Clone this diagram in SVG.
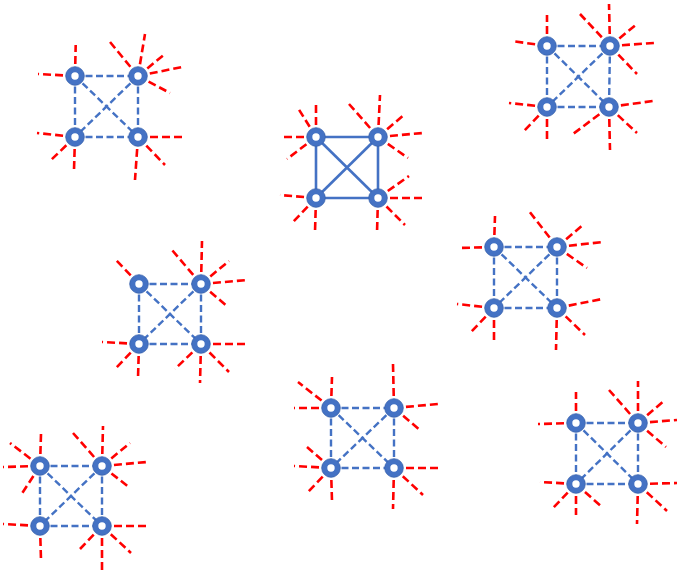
<svg xmlns="http://www.w3.org/2000/svg" width="677" height="573" viewBox="0 0 677 573">
<style>
.e{stroke:#4472C4;stroke-width:2.4;stroke-dasharray:7,3.5;fill:none}
.es{stroke:#4472C4;stroke-width:2.6;fill:none}
.r{stroke:#FF0000;stroke-width:2.6;stroke-dasharray:8,4;fill:none}
.n{fill:#FFFFFF;stroke:#4472C4;stroke-width:5.6}
.o{fill:none;stroke:#3A63AD;stroke-width:0.8}
</style>
<rect width="677" height="573" fill="#FFFFFF"/>
<g id="connectors">
<!-- cluster 1 -->
<g id="c1-edges">
<line class="e" x1="75" y1="76" x2="138" y2="76"/><line class="e" x1="75" y1="137" x2="138" y2="137"/>
<line class="e" x1="75" y1="76" x2="75" y2="137"/><line class="e" x1="138" y1="76" x2="138" y2="137"/>
<line class="e" x1="75" y1="76" x2="138" y2="137"/><line class="e" x1="138" y1="76" x2="75" y2="137"/>
</g>
<g id="c1-rays">
<line class="r" x1="75" y1="76" x2="75.7" y2="45"/><line class="r" x1="75" y1="76" x2="38" y2="74"/>
<line class="r" x1="138" y1="76" x2="110" y2="42"/><line class="r" x1="138" y1="76" x2="145" y2="34"/><line class="r" x1="138" y1="76" x2="165" y2="54"/><line class="r" x1="138" y1="76" x2="182" y2="67"/><line class="r" x1="138" y1="76" x2="170" y2="93"/>
<line class="r" x1="75" y1="137" x2="37" y2="133"/><line class="r" x1="75" y1="137" x2="51" y2="160"/><line class="r" x1="75" y1="137" x2="74" y2="170"/>
<line class="r" x1="138" y1="137" x2="182" y2="137"/><line class="r" x1="138" y1="137" x2="165" y2="165"/><line class="r" x1="138" y1="137" x2="135" y2="180"/>
</g>
<!-- cluster 2 -->
<g id="c2-edges">
<line class="es" x1="316" y1="137" x2="378" y2="137"/><line class="es" x1="316" y1="198" x2="378" y2="198"/>
<line class="es" x1="316" y1="137" x2="316" y2="198"/><line class="es" x1="378" y1="137" x2="378" y2="198"/>
<line class="es" x1="316" y1="137" x2="378" y2="198"/><line class="es" x1="378" y1="137" x2="316" y2="198"/>
</g>
<g id="c2-rays">
<line class="r" x1="316" y1="137" x2="298" y2="108"/><line class="r" x1="316" y1="137" x2="316" y2="105"/><line class="r" x1="316" y1="137" x2="280" y2="137"/><line class="r" x1="316" y1="137" x2="287" y2="159"/>
<line class="r" x1="378" y1="137" x2="349" y2="104"/><line class="r" x1="378" y1="137" x2="380" y2="95"/><line class="r" x1="378" y1="137" x2="405" y2="114"/><line class="r" x1="378" y1="137" x2="423" y2="133"/><line class="r" x1="378" y1="137" x2="408" y2="158"/>
<line class="r" x1="316" y1="198" x2="280" y2="195"/><line class="r" x1="316" y1="198" x2="293" y2="222"/><line class="r" x1="316" y1="198" x2="315" y2="232"/>
<line class="r" x1="378" y1="198" x2="409" y2="176"/><line class="r" x1="378" y1="198" x2="423" y2="198"/><line class="r" x1="378" y1="198" x2="405" y2="225"/><line class="r" x1="378" y1="198" x2="377" y2="233"/>
</g>
<!-- cluster 3 -->
<g id="c3-edges">
<line class="e" x1="547" y1="46" x2="610" y2="46"/><line class="e" x1="547" y1="107" x2="609" y2="107"/>
<line class="e" x1="547" y1="46" x2="547" y2="107"/><line class="e" x1="610" y1="46" x2="609" y2="107"/>
<line class="e" x1="547" y1="46" x2="609" y2="107"/><line class="e" x1="610" y1="46" x2="547" y2="107"/>
</g>
<g id="c3-rays">
<line class="r" x1="547" y1="46" x2="547" y2="15"/><line class="r" x1="547" y1="46" x2="512" y2="41"/>
<line class="r" x1="610" y1="46" x2="580" y2="14"/><line class="r" x1="610" y1="46" x2="609" y2="4"/><line class="r" x1="610" y1="46" x2="637" y2="24"/><line class="r" x1="610" y1="46" x2="654" y2="43"/><line class="r" x1="610" y1="46" x2="637" y2="74"/>
<line class="r" x1="547" y1="107" x2="509" y2="103"/><line class="r" x1="547" y1="107" x2="524" y2="131"/><line class="r" x1="547" y1="107" x2="547" y2="140"/>
<line class="r" x1="609" y1="107" x2="653" y2="101"/><line class="r" x1="609" y1="107" x2="573" y2="134"/><line class="r" x1="609" y1="107" x2="637" y2="133"/><line class="r" x1="609" y1="107" x2="610" y2="150"/>
</g>
<!-- cluster 4 -->
<g id="c4-edges">
<line class="e" x1="139" y1="284" x2="201" y2="284"/><line class="e" x1="139" y1="344" x2="201" y2="344"/>
<line class="e" x1="139" y1="284" x2="139" y2="344"/><line class="e" x1="201" y1="284" x2="201" y2="344"/>
<line class="e" x1="139" y1="284" x2="201" y2="344"/><line class="e" x1="201" y1="284" x2="139" y2="344"/>
</g>
<g id="c4-rays">
<line class="r" x1="139" y1="284" x2="115" y2="259"/>
<line class="r" x1="201" y1="284" x2="172" y2="250"/><line class="r" x1="201" y1="284" x2="202" y2="241"/><line class="r" x1="201" y1="284" x2="229" y2="261"/><line class="r" x1="201" y1="284" x2="247" y2="280"/><line class="r" x1="201" y1="284" x2="228" y2="307"/>
<line class="r" x1="139" y1="344" x2="102" y2="342"/><line class="r" x1="139" y1="344" x2="116" y2="368"/><line class="r" x1="139" y1="344" x2="138" y2="378"/>
<line class="r" x1="201" y1="344" x2="247" y2="344"/><line class="r" x1="201" y1="344" x2="175" y2="369"/><line class="r" x1="201" y1="344" x2="229" y2="372"/><line class="r" x1="201" y1="344" x2="200" y2="383"/>
</g>
<!-- cluster 5 -->
<g id="c5-edges">
<line class="e" x1="494" y1="247" x2="557" y2="247"/><line class="e" x1="494" y1="308" x2="557" y2="308"/>
<line class="e" x1="494" y1="247" x2="494" y2="308"/><line class="e" x1="557" y1="247" x2="557" y2="308"/>
<line class="e" x1="494" y1="247" x2="557" y2="308"/><line class="e" x1="557" y1="247" x2="494" y2="308"/>
</g>
<g id="c5-rays">
<line class="r" x1="494" y1="247" x2="495" y2="216"/><line class="r" x1="494" y1="247" x2="459" y2="248"/>
<line class="r" x1="557" y1="247" x2="529" y2="211"/><line class="r" x1="557" y1="247" x2="584" y2="224"/><line class="r" x1="557" y1="247" x2="603" y2="242"/><line class="r" x1="557" y1="247" x2="587" y2="268"/>
<line class="r" x1="494" y1="308" x2="457" y2="304"/><line class="r" x1="494" y1="308" x2="471" y2="332"/><line class="r" x1="494" y1="308" x2="494" y2="340"/>
<line class="r" x1="557" y1="308" x2="602" y2="299"/><line class="r" x1="557" y1="308" x2="585" y2="335"/><line class="r" x1="557" y1="308" x2="556" y2="350"/>
</g>
<!-- cluster 6 -->
<g id="c6-edges">
<line class="e" x1="40" y1="466" x2="102" y2="466"/><line class="e" x1="40" y1="526" x2="102" y2="526"/>
<line class="e" x1="40" y1="466" x2="40" y2="526"/><line class="e" x1="102" y1="466" x2="102" y2="526"/>
<line class="e" x1="40" y1="466" x2="102" y2="526"/><line class="e" x1="102" y1="466" x2="40" y2="526"/>
</g>
<g id="c6-rays">
<line class="r" x1="40" y1="466" x2="10" y2="443"/><line class="r" x1="40" y1="466" x2="41" y2="434"/><line class="r" x1="40" y1="466" x2="3" y2="467"/><line class="r" x1="40" y1="466" x2="21" y2="495"/>
<line class="r" x1="102" y1="466" x2="73" y2="433"/><line class="r" x1="102" y1="466" x2="103" y2="426"/><line class="r" x1="102" y1="466" x2="130" y2="443"/><line class="r" x1="102" y1="466" x2="147" y2="462"/><line class="r" x1="102" y1="466" x2="130" y2="488"/>
<line class="r" x1="40" y1="526" x2="3" y2="524"/><line class="r" x1="40" y1="526" x2="41" y2="560"/>
<line class="r" x1="102" y1="526" x2="147" y2="526"/><line class="r" x1="102" y1="526" x2="80" y2="549"/><line class="r" x1="102" y1="526" x2="131" y2="553"/><line class="r" x1="102" y1="526" x2="102" y2="570"/>
</g>
<!-- cluster 7 -->
<g id="c7-edges">
<line class="e" x1="331" y1="408" x2="394" y2="408"/><line class="e" x1="331" y1="468" x2="394" y2="468"/>
<line class="e" x1="331" y1="408" x2="331" y2="468"/><line class="e" x1="394" y1="408" x2="394" y2="468"/>
<line class="e" x1="331" y1="408" x2="394" y2="468"/><line class="e" x1="394" y1="408" x2="331" y2="468"/>
</g>
<g id="c7-rays">
<line class="r" x1="331" y1="408" x2="298" y2="382"/><line class="r" x1="331" y1="408" x2="332" y2="377"/><line class="r" x1="331" y1="408" x2="294" y2="408"/>
<line class="r" x1="394" y1="408" x2="393" y2="364"/><line class="r" x1="394" y1="408" x2="438" y2="404"/><line class="r" x1="394" y1="408" x2="421" y2="431"/>
<line class="r" x1="331" y1="468" x2="307" y2="447"/><line class="r" x1="331" y1="468" x2="294" y2="466"/><line class="r" x1="331" y1="468" x2="308" y2="492"/><line class="r" x1="331" y1="468" x2="332" y2="501"/>
<line class="r" x1="394" y1="468" x2="438" y2="468"/><line class="r" x1="394" y1="468" x2="423" y2="495"/><line class="r" x1="394" y1="468" x2="393" y2="509"/>
</g>
<!-- cluster 8 -->
<g id="c8-edges">
<line class="e" x1="576" y1="423" x2="638" y2="423"/><line class="e" x1="576" y1="484" x2="638" y2="484"/>
<line class="e" x1="576" y1="423" x2="576" y2="484"/><line class="e" x1="638" y1="423" x2="638" y2="484"/>
<line class="e" x1="576" y1="423" x2="638" y2="484"/><line class="e" x1="638" y1="423" x2="576" y2="484"/>
</g>
<g id="c8-rays">
<line class="r" x1="576" y1="423" x2="576" y2="392"/><line class="r" x1="576" y1="423" x2="538" y2="424"/>
<line class="r" x1="638" y1="423" x2="609" y2="390"/><line class="r" x1="638" y1="423" x2="638" y2="381"/><line class="r" x1="638" y1="423" x2="665" y2="400"/><line class="r" x1="638" y1="423" x2="677" y2="420"/><line class="r" x1="638" y1="423" x2="666" y2="447"/>
<line class="r" x1="576" y1="484" x2="540" y2="482"/><line class="r" x1="576" y1="484" x2="553" y2="508"/><line class="r" x1="576" y1="484" x2="576" y2="515"/><line class="r" x1="576" y1="484" x2="602" y2="507"/>
<line class="r" x1="638" y1="484" x2="677" y2="483"/><line class="r" x1="638" y1="484" x2="667" y2="511"/><line class="r" x1="638" y1="484" x2="637" y2="524"/>
</g>
</g>
<g id="nodes">
<g id="n1a"><circle class="n" cx="75" cy="76" r="6.5"/><circle class="o" cx="75" cy="76" r="9.3"/></g>
<g id="n1b"><circle class="n" cx="138" cy="76" r="6.5"/><circle class="o" cx="138" cy="76" r="9.3"/></g>
<g id="n1c"><circle class="n" cx="75" cy="137" r="6.5"/><circle class="o" cx="75" cy="137" r="9.3"/></g>
<g id="n1d"><circle class="n" cx="138" cy="137" r="6.5"/><circle class="o" cx="138" cy="137" r="9.3"/></g>
<g id="n2a"><circle class="n" cx="316" cy="137" r="6.5"/><circle class="o" cx="316" cy="137" r="9.3"/></g>
<g id="n2b"><circle class="n" cx="378" cy="137" r="6.5"/><circle class="o" cx="378" cy="137" r="9.3"/></g>
<g id="n2c"><circle class="n" cx="316" cy="198" r="6.5"/><circle class="o" cx="316" cy="198" r="9.3"/></g>
<g id="n2d"><circle class="n" cx="378" cy="198" r="6.5"/><circle class="o" cx="378" cy="198" r="9.3"/></g>
<g id="n3a"><circle class="n" cx="547" cy="46" r="6.5"/><circle class="o" cx="547" cy="46" r="9.3"/></g>
<g id="n3b"><circle class="n" cx="610" cy="46" r="6.5"/><circle class="o" cx="610" cy="46" r="9.3"/></g>
<g id="n3c"><circle class="n" cx="547" cy="107" r="6.5"/><circle class="o" cx="547" cy="107" r="9.3"/></g>
<g id="n3d"><circle class="n" cx="609" cy="107" r="6.5"/><circle class="o" cx="609" cy="107" r="9.3"/></g>
<g id="n4a"><circle class="n" cx="139" cy="284" r="6.5"/><circle class="o" cx="139" cy="284" r="9.3"/></g>
<g id="n4b"><circle class="n" cx="201" cy="284" r="6.5"/><circle class="o" cx="201" cy="284" r="9.3"/></g>
<g id="n4c"><circle class="n" cx="139" cy="344" r="6.5"/><circle class="o" cx="139" cy="344" r="9.3"/></g>
<g id="n4d"><circle class="n" cx="201" cy="344" r="6.5"/><circle class="o" cx="201" cy="344" r="9.3"/></g>
<g id="n5a"><circle class="n" cx="494" cy="247" r="6.5"/><circle class="o" cx="494" cy="247" r="9.3"/></g>
<g id="n5b"><circle class="n" cx="557" cy="247" r="6.5"/><circle class="o" cx="557" cy="247" r="9.3"/></g>
<g id="n5c"><circle class="n" cx="494" cy="308" r="6.5"/><circle class="o" cx="494" cy="308" r="9.3"/></g>
<g id="n5d"><circle class="n" cx="557" cy="308" r="6.5"/><circle class="o" cx="557" cy="308" r="9.3"/></g>
<g id="n6a"><circle class="n" cx="40" cy="466" r="6.5"/><circle class="o" cx="40" cy="466" r="9.3"/></g>
<g id="n6b"><circle class="n" cx="102" cy="466" r="6.5"/><circle class="o" cx="102" cy="466" r="9.3"/></g>
<g id="n6c"><circle class="n" cx="40" cy="526" r="6.5"/><circle class="o" cx="40" cy="526" r="9.3"/></g>
<g id="n6d"><circle class="n" cx="102" cy="526" r="6.5"/><circle class="o" cx="102" cy="526" r="9.3"/></g>
<g id="n7a"><circle class="n" cx="331" cy="408" r="6.5"/><circle class="o" cx="331" cy="408" r="9.3"/></g>
<g id="n7b"><circle class="n" cx="394" cy="408" r="6.5"/><circle class="o" cx="394" cy="408" r="9.3"/></g>
<g id="n7c"><circle class="n" cx="331" cy="468" r="6.5"/><circle class="o" cx="331" cy="468" r="9.3"/></g>
<g id="n7d"><circle class="n" cx="394" cy="468" r="6.5"/><circle class="o" cx="394" cy="468" r="9.3"/></g>
<g id="n8a"><circle class="n" cx="576" cy="423" r="6.5"/><circle class="o" cx="576" cy="423" r="9.3"/></g>
<g id="n8b"><circle class="n" cx="638" cy="423" r="6.5"/><circle class="o" cx="638" cy="423" r="9.3"/></g>
<g id="n8c"><circle class="n" cx="576" cy="484" r="6.5"/><circle class="o" cx="576" cy="484" r="9.3"/></g>
<g id="n8d"><circle class="n" cx="638" cy="484" r="6.5"/><circle class="o" cx="638" cy="484" r="9.3"/></g>
</g>
</svg>
